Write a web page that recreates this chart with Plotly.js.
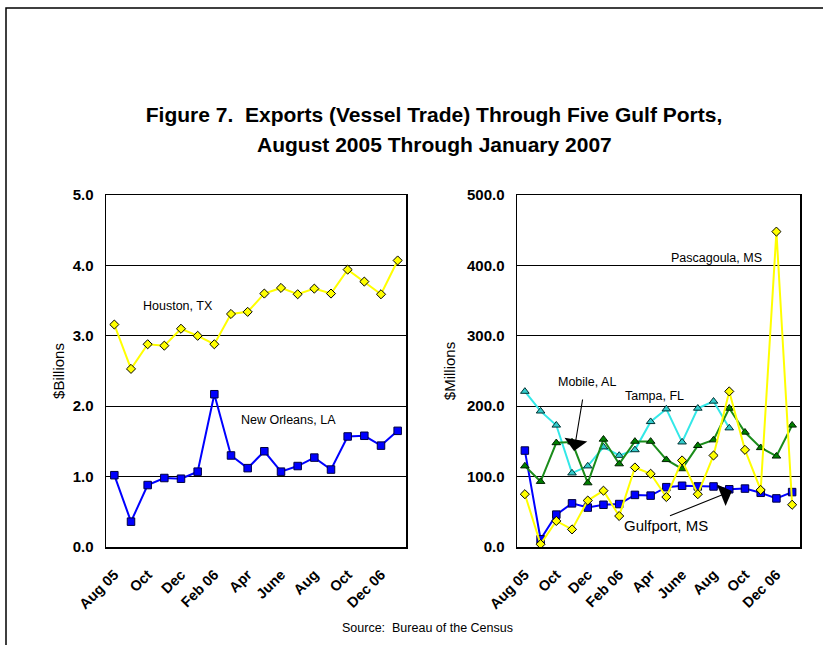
<!DOCTYPE html>
<html>
<head>
<meta charset="utf-8">
<script src="https://cdn.plot.ly/plotly-3.0.1.min.js"></script>
<style>
  html, body { margin: 0; padding: 0; background: #ffffff; }
  #chart { width: 823px; height: 645px; }
</style>
</head>
<body>
<div id="chart"></div>
<script>
// ---- Data ----
const months = ["Aug 05","Sep 05","Oct 05","Nov 05","Dec 05","Jan 06","Feb 06","Mar 06","Apr 06",
                "May 06","Jun 06","Jul 06","Aug 06","Sep 06","Oct 06","Nov 06","Dec 06","Jan 07"];
const tickMonths = ["Aug 05","Oct 05","Dec 05","Feb 06","Apr 06","Jun 06","Aug 06","Oct 06","Dec 06"];
const tickLabels = ["Aug 05","Oct","Dec","Feb 06","Apr","June","Aug","Oct","Dec 06"];

// $Billions
const houston    = [3.16, 2.53, 2.88, 2.86, 3.10, 3.00, 2.88, 3.31, 3.34, 3.60, 3.68, 3.59, 3.67, 3.60, 3.94, 3.77, 3.59, 4.07];
const newOrleans = [1.02, 0.36, 0.88, 0.98, 0.97, 1.07, 2.17, 1.30, 1.12, 1.36, 1.07, 1.15, 1.27, 1.10, 1.57, 1.58, 1.44, 1.65];

// $Millions
const tampa      = [221, 193, 173, 105, 115, 142, 130, 138, 178, 196, 149, 197, 207, 169];
const mobile     = [115, 93, 148, 149, 91, 153, 118, 150, 150, 124, 111, 144, 152, 197, 163, 141, 129, 173];
const gulfport   = [137, 11, 46, 62, 56, 60, 61, 74, 73, 85, 87, 86, 86, 82, 83, 77, 69, 78];
const pascagoula = [75, 4, 37, 25, 66, 80, 44, 113, 104, 71, 123, 75, 130, 221, 138, 81, 448, 60];

const FONT = "Arial, 'Liberation Sans', sans-serif";
const W = 823, H = 645;
const px = v => v / W;
const py = v => 1 - v / H;

const traces = [
  { x: months, y: houston, xaxis: "x", yaxis: "y", type: "scatter", mode: "lines+markers", name: "Houston, TX",
    line: { color: "#FFFF00", width: 2 },
    marker: { symbol: "diamond", size: 7, color: "#FFFF00", line: { color: "#000000", width: 1 } } },
  { x: months, y: newOrleans, xaxis: "x", yaxis: "y", type: "scatter", mode: "lines+markers", name: "New Orleans, LA",
    line: { color: "#0000FF", width: 2 },
    marker: { symbol: "square", size: 7.5, color: "#0000FF", line: { color: "#000040", width: 1 } } },
  { x: months, y: gulfport, xaxis: "x2", yaxis: "y2", type: "scatter", mode: "lines+markers", name: "Gulfport, MS",
    line: { color: "#0000FF", width: 2 },
    marker: { symbol: "square", size: 7.5, color: "#0000FF", line: { color: "#000040", width: 1 } } },
  { x: months.slice(0, tampa.length), y: tampa, xaxis: "x2", yaxis: "y2", type: "scatter", mode: "lines+markers", name: "Tampa, FL",
    line: { color: "#33E8E8", width: 2 },
    marker: { symbol: "triangle-up", size: 7.5, color: "#33CCCC", line: { color: "#003333", width: 1 } } },
  { x: months, y: mobile, xaxis: "x2", yaxis: "y2", type: "scatter", mode: "lines+markers", name: "Mobile, AL",
    line: { color: "#1A8C1A", width: 2 },
    marker: { symbol: "triangle-up", size: 7.5, color: "#008000", line: { color: "#002000", width: 1 } } },
  { x: months, y: pascagoula, xaxis: "x2", yaxis: "y2", type: "scatter", mode: "lines+markers", name: "Pascagoula, MS",
    line: { color: "#FFFF00", width: 2 },
    marker: { symbol: "diamond", size: 7, color: "#FFFF00", line: { color: "#000000", width: 1 } } }
];

const xCommon = {
  type: "category", categoryorder: "array", categoryarray: months,
  range: [-0.5, months.length - 0.5],
  tickmode: "array", tickvals: tickMonths, ticktext: tickLabels,
  tickangle: -45, ticks: "", ticklabelstandoff: 12,
  tickfont: { family: FONT, size: 14.5, color: "#000000", weight: "bold" },
  showgrid: false, zeroline: false,
  showline: true, linecolor: "#000000", linewidth: 1.5, mirror: true,
  fixedrange: true
};
const yCommon = {
  ticks: "", ticklabelstandoff: 8, tickformat: ".1f",
  tickfont: { family: FONT, size: 15, color: "#000000", weight: "bold" },
  showgrid: true, gridcolor: "#000000", gridwidth: 1,
  zeroline: false,
  showline: true, linecolor: "#000000", linewidth: 1.5, mirror: true,
  fixedrange: true
};

const layout = {
  width: W, height: H,
  margin: { l: 0, r: 0, t: 0, b: 0 },
  paper_bgcolor: "#FFFFFF", plot_bgcolor: "#FFFFFF",
  showlegend: false,
  font: { family: FONT, color: "#000000" },
  title: {
    text: "Figure 7.  Exports (Vessel Trade) Through Five Gulf Ports,",
    font: { family: FONT, size: 21, color: "#000000", weight: "bold" },
    x: px(434), xanchor: "center", y: py(115), yanchor: "middle", xref: "paper", yref: "paper"
  },
  xaxis: Object.assign({}, xCommon, { domain: [px(106), px(406)], anchor: "y" }),
  yaxis: Object.assign({}, yCommon, { domain: [py(547), py(195)], anchor: "x", range: [0, 5], dtick: 1,
    title: { text: "$Billions", font: { family: FONT, size: 15, color: "#000000" }, standoff: 4 } }),
  xaxis2: Object.assign({}, xCommon, { domain: [px(517), px(800)], anchor: "y2" }),
  yaxis2: Object.assign({}, yCommon, { domain: [py(547), py(195)], anchor: "x2", range: [0, 500], dtick: 100,
    title: { text: "$Millions", font: { family: FONT, size: 15, color: "#000000" }, standoff: 7 } }),
  shapes: [
    { type: "rect", xref: "paper", yref: "paper", x0: px(6), y0: py(8), x1: 1.2, y1: -0.2,
      line: { color: "#000000", width: 1.5 }, fillcolor: "rgba(0,0,0,0)", layer: "above" }
  ],
  annotations: [
    { text: "August 2005 Through January 2007", xref: "paper", yref: "paper", x: px(434), y: py(145),
      xanchor: "center", yanchor: "middle", showarrow: false,
      font: { family: FONT, size: 21, color: "#000000", weight: "bold" } },
    { text: "Houston, TX", xref: "paper", yref: "paper", x: px(178), y: py(306), showarrow: false,
      xanchor: "center", yanchor: "middle", font: { family: FONT, size: 12.5, color: "#000000" } },
    { text: "New Orleans, LA", xref: "paper", yref: "paper", x: px(288), y: py(420), showarrow: false,
      xanchor: "center", yanchor: "middle", font: { family: FONT, size: 12.5, color: "#000000" } },
    { text: "Pascagoula, MS", xref: "paper", yref: "paper", x: px(716), y: py(258), showarrow: false,
      xanchor: "center", yanchor: "middle", font: { family: FONT, size: 12.5, color: "#000000" } },
    { text: "Mobile, AL", xref: "paper", yref: "paper", x: px(587), y: py(382), showarrow: false,
      xanchor: "center", yanchor: "middle", font: { family: FONT, size: 12.5, color: "#000000" } },
    { text: "Tampa, FL", xref: "paper", yref: "paper", x: px(654), y: py(396), showarrow: false,
      xanchor: "center", yanchor: "middle", font: { family: FONT, size: 12.5, color: "#000000" } },
    { text: "Gulfport, MS", xref: "paper", yref: "paper", x: px(666), y: py(525), showarrow: false,
      xanchor: "center", yanchor: "middle", font: { family: FONT, size: 15, color: "#000000" } },
    { text: " ", xref: "paper", yref: "paper", x: px(574), y: py(451), showarrow: true,
      ax: 10, ay: -60, arrowhead: 1, arrowsize: 3.5, arrowwidth: 1.1, arrowcolor: "#000000" },
    { text: " ", xref: "paper", yref: "paper", x: px(732), y: py(491), showarrow: true,
      ax: -65, ay: 26, arrowhead: 1, arrowsize: 3.5, arrowwidth: 1.1, arrowcolor: "#000000" },
    { text: "Source:\u00a0 Bureau of the Census", xref: "paper", yref: "paper", x: px(427), y: py(628),
      xanchor: "center", yanchor: "middle", showarrow: false,
      font: { family: FONT, size: 12.5, color: "#000000" } }
  ]
};

Plotly.newPlot("chart", traces, layout, { displayModeBar: false, staticPlot: true });
</script>
</body>
</html>
